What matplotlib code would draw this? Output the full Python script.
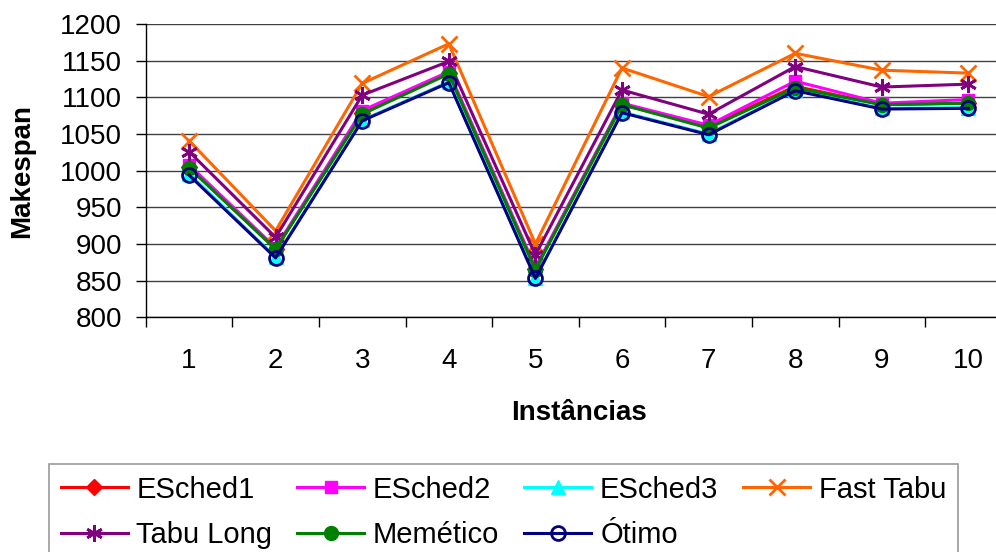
import matplotlib
matplotlib.use("Agg")
import matplotlib.pyplot as plt
import numpy as np

plt.rcParams['font.family'] = ['Liberation Sans', 'DejaVu Sans']

instancias = ['1', '2', '3', '4', '5', '6', '7', '8', '9', '10']

esched1 = [1005, 893, 1078, 1133, 866, 1090, 1060, 1115, 1090, 1092]
esched2 = [1008, 895, 1082, 1135, 868, 1092, 1062, 1122, 1092, 1097]
esched3 = [996, 882, 1069, 1121, 854, 1080, 1050, 1110, 1085, 1086]
fast_tabu = [1041, 918, 1119, 1173, 900, 1140, 1101, 1160, 1137, 1133]
tabu_long = [1026, 909, 1103, 1149, 885, 1110, 1077, 1142, 1114, 1118]
memetico = [1004, 893, 1077, 1132, 865, 1090, 1058, 1113, 1090, 1092]
otimo = [994, 881, 1068, 1120, 853, 1079, 1049, 1109, 1084, 1085]

y_ticks = [800, 850, 900, 950, 1000, 1050, 1100, 1150, 1200]

series = [
    ('ESched1', esched1, '#FF0000', dict(marker='D', markersize=8)),
    ('ESched2', esched2, '#FF00FF', dict(marker='s', markersize=9)),
    ('ESched3', esched3, '#00FFFF', dict(marker='^', markersize=10)),
    ('Fast Tabu', fast_tabu, '#FF6600', dict(marker='x', markersize=11, markeredgewidth=2)),
    ('Tabu Long', tabu_long, '#800080', dict(marker=(6, 2, 0), markersize=12, markeredgewidth=2)),
    ('Memético', memetico, '#008000', dict(marker='o', markersize=10)),
    ('Ótimo', otimo, '#000080', dict(marker='o', markersize=10, markerfacecolor='none',
                                     markeredgewidth=2)),
]

fig = plt.figure(figsize=(9.96, 5.52), dpi=100)
ax = fig.add_axes([145.7 / 996, 1 - 317.3 / 552, 866 / 996, (317.3 - 24) / 552])

x = np.arange(1, len(instancias) + 1)
handles = {}
for name, vals, color, mk in series:
    line, = ax.plot(x, vals, color=color, lw=2.2, label=name, **mk)
    handles[name] = line

ax.set_xlim(0.5, len(instancias) + 0.5)
ax.set_ylim(800, 1200)
ax.set_yticks(y_ticks)
ax.set_yticklabels([str(v) for v in y_ticks])
ax.grid(axis='y', color='#404040', lw=1.0)
ax.set_axisbelow(True)

# category labels at centres, tick marks at the boundaries between them
ax.set_xticks(x)
ax.set_xticklabels(instancias)
ax.set_xticks(np.arange(0.5, len(instancias) + 1.0, 1.0), minor=True)
ax.tick_params(axis='x', which='major', length=0, pad=22, labelsize=20)
ax.tick_params(axis='x', which='minor', length=7, width=1, direction='out', color='black')
ax.tick_params(axis='y', length=7, width=1, direction='out', pad=10, labelsize=20)

for s in ('top', 'right'):
    ax.spines[s].set_visible(False)
ax.spines['left'].set_color('black')
ax.spines['bottom'].set_color('black')
ax.spines['left'].set_linewidth(1)
ax.spines['bottom'].set_linewidth(1)

ax.set_ylabel('Makespan', fontsize=20, fontweight='bold', labelpad=18)
ax.set_xlabel('Instâncias', fontsize=20, fontweight='bold', labelpad=19)

# legend filled row by row: reorder for matplotlib's column-wise layout
order = ['ESched1', 'Tabu Long', 'ESched2', 'Memético', 'ESched3', 'Ótimo', 'Fast Tabu']
leg = fig.legend([handles[n] for n in order], order,
                 loc='upper left', bbox_to_anchor=(49 / 996, 1 - 464 / 552),
                 ncol=4, fontsize=21, frameon=True, fancybox=False,
                 handlelength=2.3, handletextpad=0.3, columnspacing=0.85,
                 labelspacing=0.6, borderpad=0.4, borderaxespad=0)
leg.get_frame().set_edgecolor('#808080')
leg.get_frame().set_linewidth(1.2)

fig.savefig('out.png', dpi=100)
